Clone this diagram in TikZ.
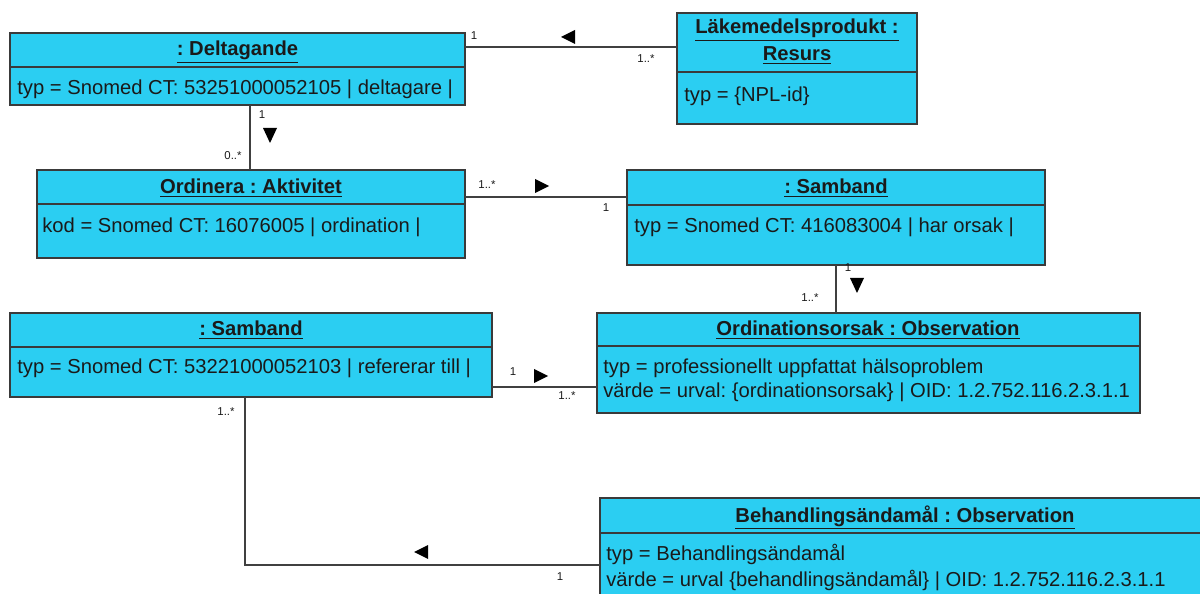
\documentclass[tikz,border=0pt]{standalone}
\usepackage{fontspec}
\setmainfont{Liberation Sans}
\definecolor{boxfill}{HTML}{2BCEF2}
\definecolor{boxline}{HTML}{3A3A3A}
\definecolor{txt}{HTML}{1A1A1A}
\frenchspacing
\begin{document}
\begin{tikzpicture}[x=0.02cm,y=-0.02cm,
  umlbox/.style={draw=boxline, fill=boxfill, line width=1pt, anchor=north west, inner sep=0, outer sep=0},
  divline/.style={draw=boxline, line width=1pt},
  ttl/.style={font=\fontsize{11.5}{13}\selectfont\bfseries, text=txt, inner sep=0, anchor=base},
  attr/.style={font=\fontsize{11.5}{13}\selectfont, text=txt, anchor=base west, inner sep=0},
  mult/.style={font=\fontsize{6.5}{7}\selectfont, text=txt, inner sep=0},
  conn/.style={draw=black!75, line width=0.8pt},
  tri/.style={fill=black}
]
\useasboundingbox (0,0) rectangle (1200,594);
\clip (0,0) rectangle (1200,594);
\fill[white] (0,0) rectangle (1200,594);

% --- boxes ---
\node[umlbox, minimum width=9.1cm, minimum height=1.44cm] (del) at (10,33) {};
\draw[divline] (10,67) -- (465,67);
\node[ttl] at (237.5,56) {\underline{: Deltagande}};
\node[attr] at (17,95) {typ = Snomed CT: 53251000052105 | deltagare |};

\node[umlbox, minimum width=4.8cm, minimum height=2.22cm] (lak) at (677,13) {};
\draw[divline] (677,72) -- (917,72);
\node[ttl] at (797,34) {\underline{Läkemedelsprodukt :}};
\node[ttl] at (797,61) {\underline{Resurs}};
\node[attr] at (684,102) {typ = \{NPL-id\}};

\node[umlbox, minimum width=8.56cm, minimum height=1.76cm] (ord) at (37,170) {};
\draw[divline] (37,204) -- (465,204);
\node[ttl] at (251,194) {\underline{Ordinera : Aktivitet}};
\node[attr] at (42,233) {kod = Snomed CT: 16076005 | ordination |};

\node[umlbox, minimum width=8.36cm, minimum height=1.9cm] (sbA) at (627,170) {};
\draw[divline] (627,205) -- (1045,205);
\node[ttl] at (836,194) {\underline{: Samband}};
\node[attr] at (634,233) {typ = Snomed CT: 416083004 | har orsak |};

\node[umlbox, minimum width=10.86cm, minimum height=2.0cm] (oo) at (597,313) {};
\draw[divline] (597,346) -- (1140,346);
\node[ttl] at (868,336) {\underline{Ordinationsorsak : Observation}};
\node[attr] at (603,374) {typ = professionellt uppfattat hälsoproblem};
\node[attr] at (603,398) {värde = urval: \{ordinationsorsak\} | OID: 1.2.752.116.2.3.1.1};

\node[umlbox, minimum width=9.64cm, minimum height=1.68cm] (sbB) at (10,313) {};
\draw[divline] (10,347) -- (492,347);
\node[ttl] at (251,336) {\underline{: Samband}};
\node[attr] at (17,374) {typ = Snomed CT: 53221000052103 | refererar till |};

\node[umlbox, minimum width=12.2cm, minimum height=2.4cm] (beh) at (600,498) {};
\draw[divline] (600,533) -- (1210,533);
\node[ttl] at (905,522) {\underline{Behandlingsändamål : Observation}};
\node[attr] at (606,560) {typ = Behandlingsändamål};
\node[attr] at (606,586) {värde = urval \{behandlingsändamål\} | OID: 1.2.752.116.2.3.1.1};

% --- connector levels ---
\coordinate (hA) at (0,47);
\coordinate (hB) at (0,197);
\coordinate (hC) at (0,387);
\coordinate (hD) at (0,565);
\coordinate (vA) at (250,0);
\coordinate (vB) at (836,0);
\coordinate (vC) at (245,0);

\draw[conn] (del.east |- hA) -- (lak.west |- hA);
\draw[conn] (del.south -| vA) -- (ord.north -| vA);
\draw[conn] (ord.east |- hB) -- (sbA.west |- hB);
\draw[conn] (sbA.south -| vB) -- (oo.north -| vB);
\draw[conn] (sbB.east |- hC) -- (oo.west |- hC);
\draw[conn] (sbB.south -| vC) |- (beh.west |- hD);

% --- direction triangles ---
\fill[tri, shift={(568,37)}] (-7,0) -- (7,-7) -- (7,7) -- cycle;
\fill[tri, shift={(270,135)}] (0,8) -- (-7,-7) -- (7,-7) -- cycle;
\fill[tri, shift={(542,186)}] (7,0) -- (-7,-7) -- (-7,7) -- cycle;
\fill[tri, shift={(857,285)}] (0,8) -- (-7,-7) -- (7,-7) -- cycle;
\fill[tri, shift={(541,376)}] (7,0) -- (-7,-7) -- (-7,7) -- cycle;
\fill[tri, shift={(421,552)}] (-7,0) -- (7,-7) -- (7,7) -- cycle;

% --- multiplicities ---
\node[mult] at (474,36) {1};
\node[mult] at (646,59) {1..*};
\node[mult] at (262,115) {1};
\node[mult] at (233,156) {0..*};
\node[mult] at (487,185) {1..*};
\node[mult] at (606,208) {1};
\node[mult] at (848,268) {1};
\node[mult] at (810,298) {1..*};
\node[mult] at (513,372) {1};
\node[mult] at (567,396) {1..*};
\node[mult] at (226,412) {1..*};
\node[mult] at (560,577) {1};
\end{tikzpicture}
\end{document}
